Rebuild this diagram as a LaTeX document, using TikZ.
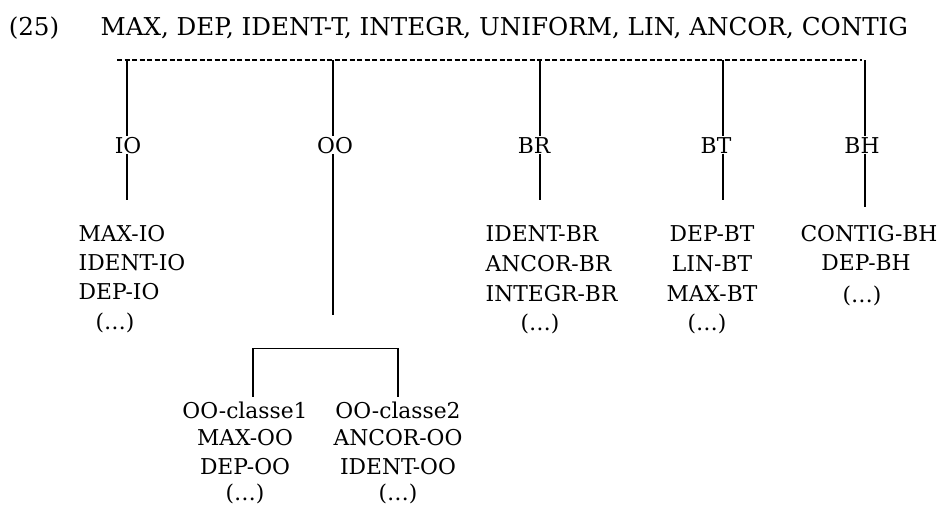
\documentclass[tikz,border=0pt]{standalone}
\usepackage{fontspec}
\setmainfont{DejaVu Serif}
\tikzset{
  titre/.style={font=\fontsize{24.6}{28}\selectfont,inner sep=0pt,anchor=base},
  etiq/.style={font=\fontsize{21.8}{26}\selectfont,inner sep=0pt,anchor=base},
  pointille/.style={line width=1.1pt,dash pattern=on 5pt off 2.5pt}
}
\begin{document}
\begin{tikzpicture}[x=1pt,y=-1pt,line width=1.3pt]
  \useasboundingbox (0,0) rectangle (942,509);
  \node[titre] (num) at (34,35) {(25)};
  \node[titre,anchor=base west] (cont) at (100,35) {MAX, DEP, IDENT-T, INTEGR, UNIFORM, LIN, ANCOR, CONTIG};
  \coordinate (g) at (117,60);
  \coordinate (d) at (862,60);
  \draw[pointille] (g) -- (d);
  \foreach \nom/\x/\lx/\fy in {IO/127/128/200,OO/333/335/315,BR/540/534/200,BT/723/716/200,BH/865/862/207}{
    \coordinate (h\nom) at (\x,60);
    \coordinate (f\nom) at (\x,\fy);
    \node[etiq] (\nom) at (\lx,153) {\nom};
    \draw (h\nom) -- (h\nom |- \nom.north);
    \draw (h\nom |- \nom.south) -- (f\nom);
  }
  \foreach \t/\yy [count=\i] in {MAX-IO/241,IDENT-IO/270,DEP-IO/299}
    \node[etiq,anchor=base west] (io\i) at (78,\yy) {\t};
  \node[etiq] (io4) at (115,329) {(…)};
  \foreach \t/\yy [count=\i] in {IDENT-BR/241,ANCOR-BR/271,INTEGR-BR/301}
    \node[etiq,anchor=base west] (br\i) at (485,\yy) {\t};
  \node[etiq] (br4) at (540,330) {(…)};
  \foreach \t/\yy [count=\i] in {DEP-BT/241,LIN-BT/271,MAX-BT/301}
    \node[etiq] (bt\i) at (712,\yy) {\t};
  \node[etiq] (bt4) at (707,330) {(…)};
  \node[etiq] (bh1) at (869,241) {CONTIG-BH};
  \node[etiq] (bh2) at (866,270) {DEP-BH};
  \node[etiq] (bh3) at (862,302) {(…)};
  \foreach \t/\yy [count=\i] in {OO-classe1/418,MAX-OO/445,DEP-OO/474,(…)/500}
    \node[etiq] (ca\i) at (245,\yy) {\t};
  \foreach \t/\yy [count=\i] in {OO-classe2/418,ANCOR-OO/445,IDENT-OO/474,(…)/500}
    \node[etiq] (cb\i) at (398,\yy) {\t};
  \draw ([xshift=8pt,yshift=4pt]ca1.north) -- ++(0,-48) -| ([yshift=4pt]cb1.north);
\end{tikzpicture}
\end{document}
